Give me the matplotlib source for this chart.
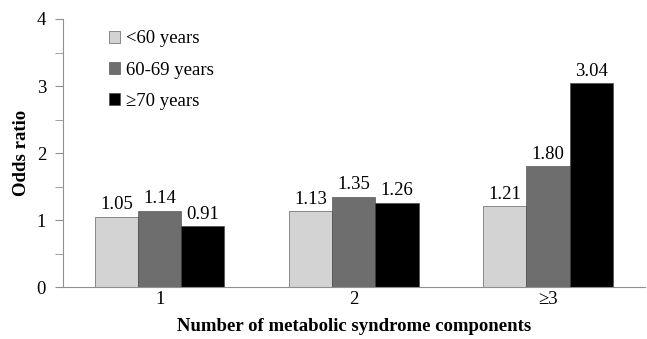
import numpy as np
import matplotlib.pyplot as plt
from matplotlib.ticker import MultipleLocator

plt.rcParams['font.family'] = ['Liberation Serif', 'DejaVu Serif']

categories = ['1', '2', '≥3']
series_names = ['<60 years', '60-69 years', '≥70 years']
under60 = [1.05, 1.13, 1.21]
age60_69 = [1.14, 1.35, 1.80]
over70 = [0.91, 1.26, 3.04]
colors = ['#d3d3d3', '#6e6e6e', '#000000']

fig = plt.figure(figsize=(6.47, 3.39), dpi=100)
ax = fig.add_axes([0.097, 0.153, 0.900, 0.791])

x = np.arange(len(categories))
w = 0.222
for i, (vals, name, c) in enumerate(zip([under60, age60_69, over70], series_names, colors)):
    bars = ax.bar(x + (i - 1) * w, vals, w, color=c, edgecolor='#404040', linewidth=0.4, label=name)
    for b, v in zip(bars, vals):
        ax.text(b.get_x() + b.get_width() / 2, v + 0.05, f'{v:.2f}',
                ha='center', va='bottom', fontsize=13.5)

ax.set_xlim(-0.5, 2.5)
ax.set_ylim(0, 4)
ax.set_xticks(x)
ax.set_xticklabels(categories, fontsize=13.5)
ax.yaxis.set_major_locator(MultipleLocator(1))
ax.yaxis.set_minor_locator(MultipleLocator(0.5))
ax.tick_params(axis='y', which='both', length=6, color='#909090', labelsize=13.5, pad=6)
ax.tick_params(axis='x', length=0, pad=3)
for s in ['top', 'right']:
    ax.spines[s].set_visible(False)
ax.spines['left'].set_color('#909090')
ax.spines['bottom'].set_color('#909090')

ax.set_ylabel('Odds ratio', fontsize=13.5, fontweight='bold', labelpad=5)
ax.set_xlabel('Number of metabolic syndrome components', fontsize=13.5, fontweight='bold', labelpad=7)

ax.legend(loc='upper left', bbox_to_anchor=(0.05, 1.02), frameon=False, fontsize=13.5,
          handlelength=0.6, handleheight=0.6, handletextpad=0.3, labelspacing=0.75)

fig.savefig('out.png', dpi=100)
